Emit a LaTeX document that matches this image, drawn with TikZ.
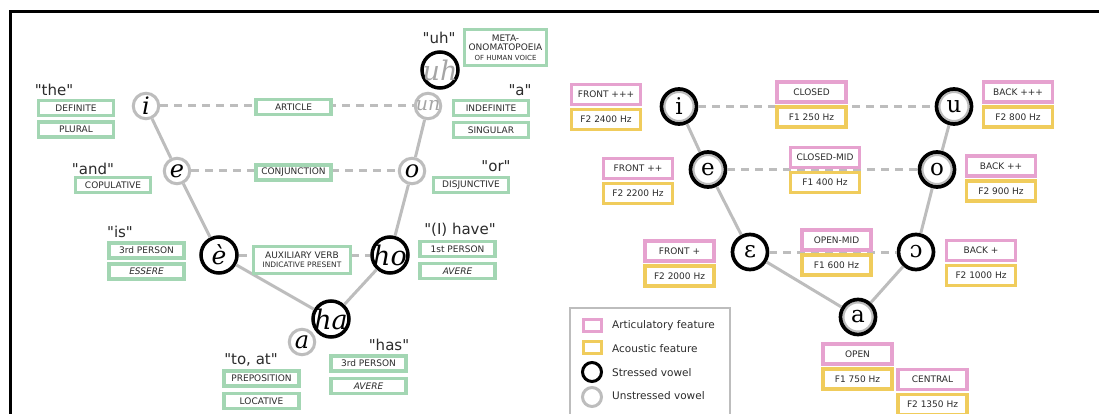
\documentclass[tikz,border=0pt]{standalone}
\usepackage{fontspec}
\setsansfont{DejaVu Sans}[Ligatures=TeXOff]
\newfontfamily\vowelfont{DejaVu Serif}
\usepackage{tikz}

\definecolor{featgreen}{HTML}{A3D6B3}
\definecolor{artpink}{HTML}{E6A2CF}
\definecolor{acuyellow}{HTML}{F0CC5C}
\definecolor{vgray}{HTML}{BDBDBD}
\definecolor{softink}{HTML}{A5A5A5}
\definecolor{inkgray}{HTML}{2B2B2B}

\newcommand\featfont{\sffamily\fontsize{9}{10}\selectfont}
\newcommand\quotefont{\sffamily\fontsize{15}{16}\selectfont}
\newcommand\legfont{\sffamily\fontsize{10.5}{12}\selectfont}

\tikzset{
  featbox/.style={draw, line width=3.2pt, fill=white, inner sep=0pt, text=inkgray, font=\featfont},
  gbox/.style={featbox, draw=featgreen, minimum width=75pt, minimum height=15pt},
  pbox/.style={featbox, draw=artpink, minimum width=69pt, minimum height=20pt},
  ybox/.style={featbox, draw=acuyellow, minimum width=69pt, minimum height=20pt},
  quotelabel/.style={font=\quotefont, text=inkgray, inner sep=0pt},
  unstressed/.style={circle, draw=vgray, line width=3pt, fill=white, minimum size=25.5pt,
    inner sep=0pt, font=\vowelfont\itshape\fontsize{24}{24}\selectfont},
  stressed/.style={unstressed, draw=black, line width=3.5pt, minimum size=36pt,
    font=\vowelfont\itshape\fontsize{27}{27}\selectfont},
  ipavowel/.style={circle, draw=black, line width=3.7pt, fill=white, minimum size=35pt,
    inner sep=0pt, font=\vowelfont\fontsize{23}{23}\selectfont},
  bothforms/.style={ipavowel, path picture={\draw[vgray, line width=2pt]
    (path picture bounding box.center) circle (14.5pt);}},
  branch/.style={vgray, line width=3pt},
  link/.style={vgray, line width=3pt, dash pattern=on 8pt off 6pt},
  legcircle/.style={circle, line width=3pt, minimum size=19pt, inner sep=0pt},
  legtext/.style={font=\legfont, text=inkgray, anchor=west, inner sep=0pt},
}

\begin{document}
\begin{tikzpicture}[x=1pt, y=-1pt]
  \useasboundingbox (0,0) rectangle (1099,414);
  \draw[line width=3pt] (10,430) |- (1110,11.5);

  % Italian words
  \node[unstressed] (i) at (146,106) {\makebox[0pt]{i}};
  \node[unstressed] (e) at (177,171) {\makebox[0pt]{e}};
  \node[stressed, font=\vowelfont\itshape\fontsize{25}{25}\selectfont] (egrave) at (219,255) {\makebox[0pt]{è}};
  \node[stressed] (ha) at (331,319) {\makebox[0pt]{ha}};
  \node[unstressed] (a) at (302,342) {\makebox[0pt]{a}};
  \node[stressed] (ho) at (390,255) {\makebox[0pt]{ho}};
  \node[unstressed] (o) at (412,171) {\makebox[0pt]{o}};
  \node[unstressed, text=softink, font=\vowelfont\itshape\fontsize{19}{19}\selectfont] (un) at (428,106) {\makebox[0pt]{un}};
  \node[stressed, text=softink] (uh) at (440,70) {\makebox[0pt]{uh}};

  \draw[branch] (i) -- (e) -- (egrave) -- (ha);
  \draw[branch] (un) -- (o) -- (ho) -- (ha);
  \draw[link] (i) -- (un);
  \draw[link] (e) -- (o);
  \draw[link] (egrave) -- (ho);

  \node[quotelabel] (q-the) at (54,90) {"the"};
  \node[gbox] (definite) at (76,108) {DEFINITE};
  \node[gbox] (plural) at (76,129.5) {PLURAL};
  \node[quotelabel] (q-and) at (93,169) {"and"};
  \node[gbox] (copulative) at (113,185) {COPULATIVE};
  \node[quotelabel] (q-is) at (120,232) {"is"};
  \node[gbox] (third-is) at (146.5,250.5) {3rd PERSON};
  \node[gbox] (essere) at (146.5,271.5) {\itshape ESSERE};
  \node[quotelabel] (q-to) at (251,360) {"to, at"};
  \node[gbox] (preposition) at (261.5,378.5) {PREPOSITION};
  \node[gbox] (locative) at (261.5,401) {LOCATIVE};

  \node[gbox] (article) at (293.5,107) {ARTICLE};
  \node[gbox] (conjunction) at (293.5,172.5) {CONJUNCTION};
  \node[gbox, minimum width=97pt, minimum height=27pt, align=center] (auxiliary) at (302,260)
    {AUXILIARY VERB\\[-1pt]{\fontsize{7.5}{8}\selectfont INDICATIVE PRESENT}};

  \node[quotelabel] (q-uh) at (439,38) {"uh"};
  \node[gbox, minimum width=82pt, minimum height=36pt, align=center] (meta) at (505.5,47.5)
    {META-\\[-0.5pt]ONOMATOPOEIA\\[-0.5pt]{\fontsize{7}{8}\selectfont OF HUMAN VOICE}};
  \node[quotelabel] (q-a) at (520,90) {"a"};
  \node[gbox] (indefinite) at (491,108) {INDEFINITE};
  \node[gbox] (singular) at (491,130) {SINGULAR};
  \node[quotelabel] (q-or) at (496,166) {"or"};
  \node[gbox] (disjunctive) at (471,185) {DISJUNCTIVE};
  \node[quotelabel] (q-have) at (460,230) {"(I) have"};
  \node[gbox] (first-ho) at (457.5,249) {1st PERSON};
  \node[gbox] (avere-ho) at (457.5,271) {\itshape AVERE};
  \node[quotelabel] (q-has) at (389,345) {"has"};
  \node[gbox] (third-ha) at (368.5,363.5) {3rd PERSON};
  \node[gbox] (avere-ha) at (368.5,386) {\itshape AVERE};

  % vowel triangle
  \node[bothforms] (vi) at (679,106.5) {\makebox[0pt]{i}};
  \node[bothforms] (ve) at (708,169.5) {\makebox[0pt]{e}};
  \node[ipavowel] (veps) at (750,252) {\makebox[0pt]{ɛ}};
  \node[bothforms] (va) at (858,317) {\makebox[0pt]{a}};
  \node[ipavowel] (vopen) at (916,252) {\makebox[0pt]{ɔ}};
  \node[bothforms] (vo) at (937,169.5) {\makebox[0pt]{o}};
  \node[bothforms] (vu) at (954,106.5) {\makebox[0pt]{u}};

  \draw[branch] (vi) -- (ve) -- (veps) -- (va);
  \draw[branch] (vu) -- (vo) -- (vopen) -- (va);
  \draw[link] (vi) -- (vu);
  \draw[link] (ve) -- (vo);
  \draw[link] (veps) -- (vopen);

  \foreach \nm/\px/\py/\art/\acu in {
      front3/606/94.5/FRONT +++/F2 2400 Hz,
      closed/811.5/92/CLOSED/F1 250 Hz,
      back3/1018/92/BACK +++/F2 800 Hz,
      front2/638/168.5/FRONT ++/F2 2200 Hz,
      closedmid/825/157.5/CLOSED-MID/F1 400 Hz,
      back2/1001/166/BACK ++/F2 900 Hz,
      front1/679.5/251/FRONT +/F2 2000 Hz,
      openmid/836.5/240/OPEN-MID/F1 600 Hz,
      back1/981/250.5/BACK +/F2 1000 Hz,
      open/857.5/354/OPEN/F1 750 Hz,
      central/932.5/379.5/CENTRAL/F2 1350 Hz}
  {
    \node[pbox] (\nm-art) at (\px,\py) {\art};
    \node[ybox] (\nm-acu) at (\px,\py+25) {\acu};
  }

  % legend
  \draw[vgray, line width=2.5pt] (570,308) rectangle (730,440);
  \node[pbox, minimum width=18pt, minimum height=12pt] (leg-art) at (592.5,325.5) {};
  \node[ybox, minimum width=18pt, minimum height=12pt] (leg-acu) at (592.5,347.5) {};
  \node[legcircle, draw=black] (leg-str) at (592,372) {};
  \node[legcircle, draw=vgray] (leg-uns) at (592,397) {};
  \node[legtext] at (612,326) {Articulatory feature};
  \node[legtext] at (612,349) {Acoustic feature};
  \node[legtext] at (612,373) {Stressed vowel};
  \node[legtext] at (612,396) {Unstressed vowel};
\end{tikzpicture}
\end{document}
